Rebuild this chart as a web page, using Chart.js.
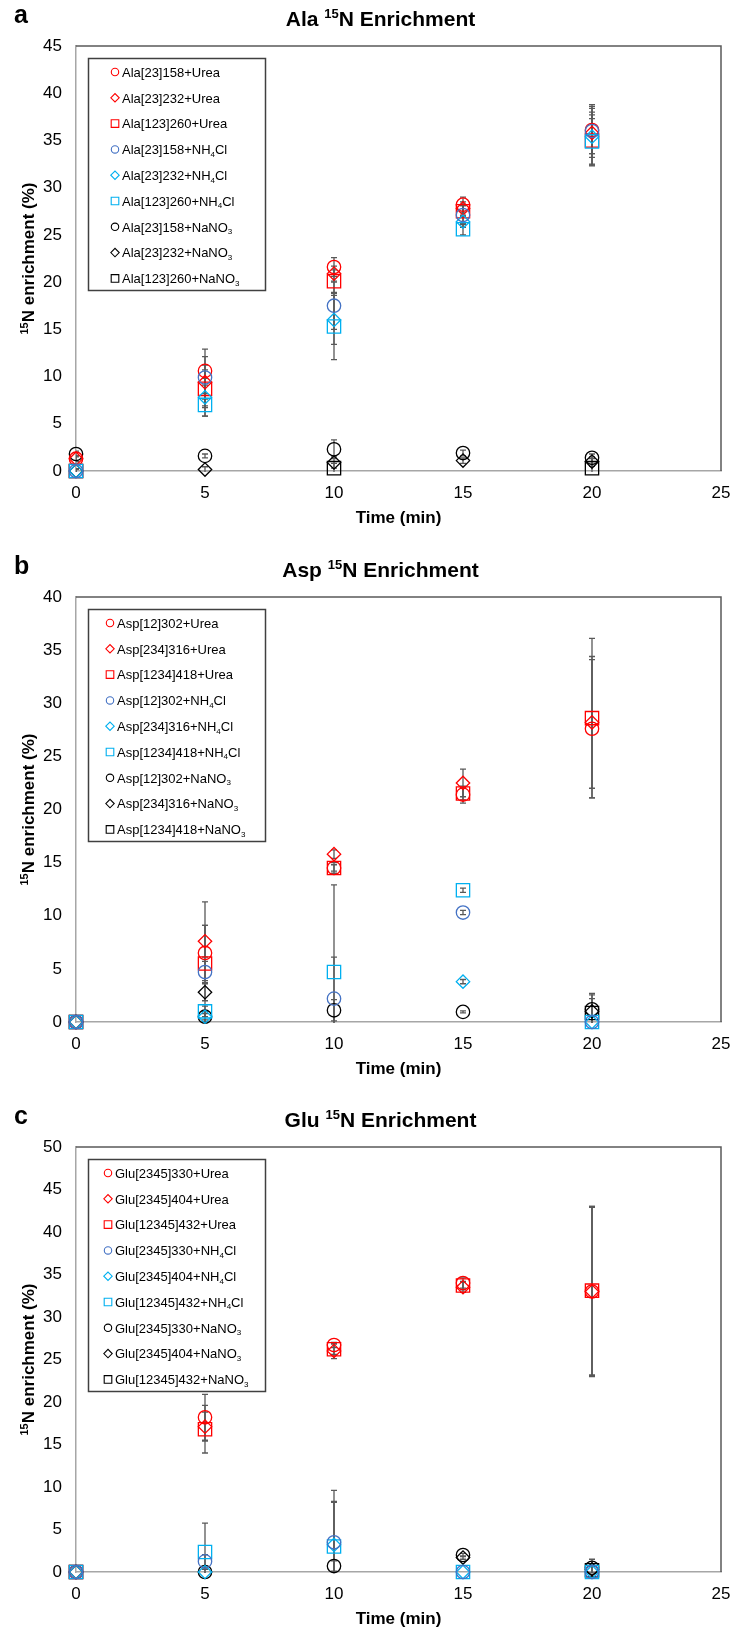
<!DOCTYPE html>
<html lang="en">
<head>
  <meta charset="UTF-8" />
  <title>15N Enrichment</title>
  <script src="https://cdn.jsdelivr.net/npm/chart.js"></script>
  <style>
    body {
      margin: 0;
      background: #fff;
      width: 734px;
      height: 1629px;
      overflow: hidden;
      position: relative;
    }

    .panel {
      position: absolute;
      left: 0;
      width: 734px;
      height: 551px;
    }
  </style>
</head>

<body>
  <div class="panel" style="top:0"><canvas id="chartA" width="734" height="551"></canvas></div>
  <div class="panel" style="top:551px"><canvas id="chartB" width="734" height="551"></canvas></div>
  <div class="panel" style="top:1101px"><canvas id="chartC" width="734" height="551"></canvas></div>

  <script>
    const FONT = "'Liberation Sans', Arial, sans-serif";

    // sampling times (min) and x axis ticks
    const times = [0, 5, 10, 15, 20];
    const xTicks = [0, 5, 10, 15, 20, 25];

    // series order: Urea (o, <>, []), NH4Cl (o, <>, []), NaNO3 (o, <>, [])
    const seriesColors = ['#FF0000', '#FF0000', '#FF0000', '#4472C4', '#00B0F0', '#00B0F0', '#000000', '#000000', '#000000'];
    const seriesShapes = ['circle', 'rectRot', 'rect', 'circle', 'rectRot', 'rect', 'circle', 'rectRot', 'rect'];

    // --- Ala ---
    const alaLabels = [
      'Ala[23]158+Urea', 'Ala[23]232+Urea', 'Ala[123]260+Urea',
      'Ala[23]158+NH4Cl', 'Ala[23]232+NH4Cl', 'Ala[123]260+NH4Cl',
      'Ala[23]158+NaNO3', 'Ala[23]232+NaNO3', 'Ala[123]260+NaNO3'
    ];
    const alaMean = [
      [1.3, 10.6, 21.6, 28.2, 36.1],
      [1.3, 9.4, 20.9, 27.8, 35.8],
      [0.0, 8.7, 20.1, 27.5, 35.0],
      [0.0, 9.9, 17.5, 27.1, 36.0],
      [0.0, 7.8, 16.0, 26.4, 35.4],
      [0.0, 7.0, 15.3, 25.6, 34.9],
      [1.8, 1.6, 2.3, 1.9, 1.4],
      [0.0, 0.15, 0.9, 1.1, 1.0],
      [0.0, null, 0.3, null, 0.3]
    ];
    const alaErr = [
      [0.3, 1.5, 1.0, 0.8, 2.5],
      [0.3, 1.8, 0.8, 0.7, 2.2],
      [0.2, 2.0, 1.2, 0.6, 2.7],
      [0.2, 3.0, 2.5, 1.0, 2.8],
      [0.2, 2.0, 2.6, 0.6, 3.0],
      [0.2, 1.2, 3.5, 0.6, 2.4],
      [0.3, 0.2, 1.0, 0.3, 0.4],
      [0.2, 0.3, 0.6, 0.3, 0.5],
      [0.2, null, 0.5, null, 1.0]
    ];

    // --- Asp ---
    const aspLabels = [
      'Asp[12]302+Urea', 'Asp[234]316+Urea', 'Asp[1234]418+Urea',
      'Asp[12]302+NH4Cl', 'Asp[234]316+NH4Cl', 'Asp[1234]418+NH4Cl',
      'Asp[12]302+NaNO3', 'Asp[234]316+NaNO3', 'Asp[1234]418+NaNO3'
    ];
    const aspMean = [
      [0.0, 6.5, 14.5, 21.4, 27.6],
      [0.0, 7.6, 15.8, 22.5, 28.2],
      [0.0, 5.5, 14.5, 21.5, 28.6],
      [0.0, 4.7, 2.2, 10.3, 0.0],
      [0.0, 0.5, null, 3.8, 0.0],
      [0.0, 1.0, 4.7, 12.4, 0.0],
      [0.0, 0.5, 1.1, 0.95, 1.2],
      [0.0, 2.8, null, null, 1.0],
      [0.0, null, null, null, 0.85]
    ];
    const aspErr = [
      [0.0, 2.6, 0.5, 0.8, 6.5],
      [0.0, 1.5, 0.4, 1.3, 6.2],
      [0.0, 5.8, 0.3, 0.6, 7.5],
      [0.0, 1.0, 3.9, 0.2, 0.0],
      [0.0, 0.3, null, 0.2, 0.0],
      [0.0, 0.5, 8.2, 0.2, 0.0],
      [0.0, 0.5, 1.0, 0.1, 1.5],
      [0.0, 0.8, null, null, 1.2],
      [0.0, null, null, null, 1.7]
    ];

    // --- Glu ---
    const gluLabels = [
      'Glu[2345]330+Urea', 'Glu[2345]404+Urea', 'Glu[12345]432+Urea',
      'Glu[2345]330+NH4Cl', 'Glu[2345]404+NH4Cl', 'Glu[12345]432+NH4Cl',
      'Glu[2345]330+NaNO3', 'Glu[2345]404+NaNO3', 'Glu[12345]432+NaNO3'
    ];
    const gluMean = [
      [0.0, 18.2, 26.7, 34.0, 33.0],
      [0.0, 17.1, 26.0, 33.5, 33.0],
      [0.0, 16.8, 26.2, 33.7, 33.1],
      [0.0, 1.25, 3.5, 0.0, 0.0],
      [0.0, 0.0, 3.2, 0.0, 0.0],
      [0.0, 2.35, 3.0, 0.0, 0.0],
      [0.0, 0.0, 0.7, 2.0, 0.5],
      [0.0, null, null, 1.7, 0.3],
      [0.0, null, null, null, 0.2]
    ];
    const gluErr = [
      [0.0, 2.7, 0.3, 0.6, 10.0],
      [0.0, 1.7, 0.9, 0.6, 9.9],
      [0.0, 2.8, 0.6, 0.5, 9.9],
      [0.0, 0.8, 4.8, 0.0, 0.0],
      [0.0, 0.0, 5.0, 0.0, 0.0],
      [0.0, 3.4, 6.6, 0.0, 0.0],
      [0.0, 0.3, 0.6, 0.2, 1.0],
      [0.0, null, null, 0.2, 0.4],
      [0.0, null, null, null, 0.5]
    ];

    // draw order: NaNO3 at the bottom, NH4Cl on top
    const seriesOrder = [1, 1, 1, 0, 0, 0, 2, 2, 2];

    // text with super/subscripts: parts = [[text, 'n'|'sup'|'sub'], ...]
    function drawRich(ctx, parts, x, y, size, weight, align) {
      const small = Math.round(size * 0.62);
      const fontFor = kind => `${weight} ${kind === 'n' ? size : small}px ${FONT}`;
      let total = 0;
      parts.forEach(([t, kind]) => { ctx.font = fontFor(kind); total += ctx.measureText(t).width; });
      let cx = align === 'center' ? x - total / 2 : x;
      ctx.textAlign = 'left';
      ctx.textBaseline = 'alphabetic';
      parts.forEach(([t, kind]) => {
        ctx.font = fontFor(kind);
        const dy = kind === 'sup' ? -size * 0.38 : kind === 'sub' ? size * 0.2 : 0;
        ctx.fillText(t, cx, y + dy);
        cx += ctx.measureText(t).width;
      });
    }

    function labelParts(label) {
      const m = label.match(/^(.*N[HO])(\d)(.*)$/);
      return m ? [[m[1], 'n'], [m[2], 'sub'], [m[3], 'n']] : [[label, 'n']];
    }

    function legendMarker(ctx, shape, x, y) {
      ctx.beginPath();
      if (shape === 'circle') ctx.arc(x, y, 3.7, 0, Math.PI * 2);
      else if (shape === 'rect') ctx.rect(x - 3.8, y - 3.8, 7.6, 7.6);
      else { ctx.moveTo(x - 4.2, y); ctx.lineTo(x, y - 4.2); ctx.lineTo(x + 4.2, y); ctx.lineTo(x, y + 4.2); ctx.closePath(); }
      ctx.stroke();
    }

    const errorBars = {
      id: 'errorBars',
      beforeDatasetsDraw(chart) {
        const { ctx, chartArea: a, scales: { x, y } } = chart;
        ctx.save();
        ctx.beginPath();
        ctx.rect(a.left, a.top, a.right - a.left, a.bottom - a.top + 1);
        ctx.clip();
        ctx.strokeStyle = '#595959';
        ctx.lineWidth = 1.3;
        chart.data.datasets.forEach(ds => {
          ds.data.forEach(p => {
            if (!p.e) return;
            const px = x.getPixelForValue(p.x);
            const top = y.getPixelForValue(p.y + p.e);
            const bot = y.getPixelForValue(p.y - p.e);
            ctx.beginPath();
            ctx.moveTo(px, top); ctx.lineTo(px, bot);
            ctx.moveTo(px - 3, top); ctx.lineTo(px + 3, top);
            ctx.moveTo(px - 3, bot); ctx.lineTo(px + 3, bot);
            ctx.stroke();
          });
        });
        ctx.restore();
      }
    };

    const decorations = {
      id: 'decorations',
      afterDraw(chart, args, opts) {
        const { ctx, chartArea: a } = chart;
        ctx.save();

        // top and right frame of plot area
        ctx.strokeStyle = '#595959';
        ctx.lineWidth = 1.5;
        ctx.beginPath();
        ctx.moveTo(a.left, a.top); ctx.lineTo(a.right, a.top); ctx.lineTo(a.right, a.bottom);
        ctx.stroke();

        ctx.fillStyle = '#000';
        // panel letter
        ctx.font = `bold 25px ${FONT}`;
        ctx.textAlign = 'left';
        ctx.textBaseline = 'alphabetic';
        ctx.fillText(opts.letter, 14, 23);

        // title
        drawRich(ctx, [[opts.amino + ' ', 'n'], ['15', 'sup'], ['N Enrichment', 'n']], 380.5, 26, 21, 'bold', 'center');

        // y axis title
        ctx.save();
        ctx.translate(34, (a.top + a.bottom) / 2);
        ctx.rotate(-Math.PI / 2);
        drawRich(ctx, [['15', 'sup'], ['N enrichment (%)', 'n']], 0, 0, 17, 'bold', 'center');
        ctx.restore();

        // legend box
        ctx.strokeStyle = '#404040';
        ctx.lineWidth = 1.5;
        ctx.strokeRect(88.5, 58.5, 177, 232);
        chart.data.datasets.forEach((ds, i) => {
          const ly = 72 + i * 25.8;
          ctx.strokeStyle = ds.borderColor;
          ctx.lineWidth = 1.1;
          legendMarker(ctx, ds.pointStyle, opts.markerX, ly);
          ctx.fillStyle = '#000';
          drawRich(ctx, labelParts(ds.label), opts.markerX + 7, ly + 4.7, 13, 'normal', 'left');
        });
        ctx.restore();
      }
    };

    function makeChart(id, letter, amino, labels, mean, err, yMax, markerX) {
      const radii = { circle: 6.7, rectRot: 6.7, rect: 9.4 };
      const datasets = labels.map((label, i) => ({
        label: label,
        data: times.map((t, j) => ({ x: t, y: mean[i][j], e: err[i][j] })).filter(p => p.y !== null),
        pointStyle: seriesShapes[i],
        pointRadius: radii[seriesShapes[i]],
        borderColor: seriesColors[i],
        backgroundColor: 'rgba(0,0,0,0)',
        borderWidth: 1.3,
        showLine: false,
        clip: false,
        order: seriesOrder[i]
      }));

      new Chart(document.getElementById(id), {
        type: 'scatter',
        data: { datasets },
        options: {
          responsive: false,
          animation: false,
          events: [],
          layout: { padding: { top: 46, right: 13, left: 0, bottom: 0 } },
          plugins: {
            legend: { display: false },
            tooltip: { enabled: false },
            decorations: { letter, amino, markerX }
          },
          scales: {
            x: {
              type: 'linear',
              min: 0,
              max: 25,
              afterBuildTicks: s => { s.ticks = xTicks.map(v => ({ value: v })); },
              grid: { display: false, drawTicks: false },
              border: { display: true, color: '#A6A6A6', width: 1.5 },
              ticks: { color: '#000', font: { size: 17 }, padding: 12, maxRotation: 0 },
              title: {
                display: true, text: 'Time (min)', color: '#000',
                font: { size: 17, weight: 'bold' }, padding: { top: 0, bottom: 22 }
              },
              afterFit: s => { s.height = 80; s.paddingLeft = 0; s.paddingRight = 0; }
            },
            y: {
              min: 0,
              max: yMax,
              grid: { display: false, drawTicks: false },
              border: { display: true, color: '#A6A6A6', width: 1.5 },
              ticks: { stepSize: 5, color: '#000', font: { size: 17 }, padding: 14 },
              afterFit: s => { s.width = 76; }
            }
          }
        },
        plugins: [errorBars, decorations]
      });
    }

    Chart.defaults.font.family = FONT;

    makeChart('chartA', 'a', 'Ala', alaLabels, alaMean, alaErr, 45, 115);
    makeChart('chartB', 'b', 'Asp', aspLabels, aspMean, aspErr, 40, 110);
    makeChart('chartC', 'c', 'Glu', gluLabels, gluMean, gluErr, 50, 108);
  </script>
</body>
</html>
